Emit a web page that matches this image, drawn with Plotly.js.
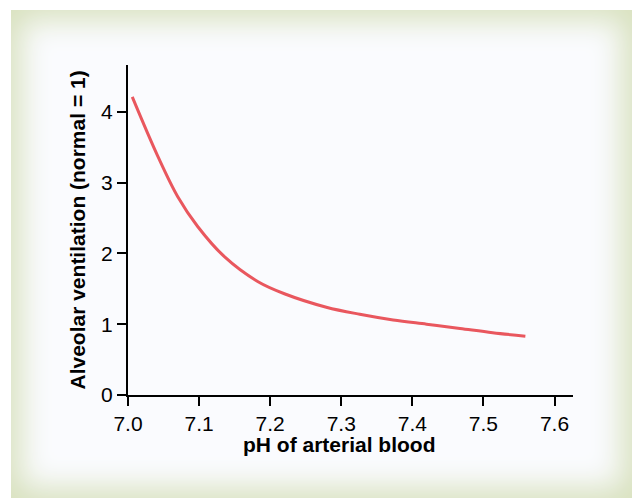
<!DOCTYPE html>
<html>
<head>
<meta charset="utf-8">
<script src="https://cdn.plot.ly/plotly-3.0.1.min.js"></script>
<style>
  html, body { margin: 0; padding: 0; background: #ffffff; width: 632px; height: 498px; overflow: hidden; }
  #frame {
    position: absolute; left: 11px; top: 10px; width: 621px; height: 488px;
    background: #fafbfe;
    box-shadow: inset 0 0 30px 10px #d8e1be;
  }
  #chart { position: absolute; left: 0; top: 0; width: 632px; height: 498px; }
</style>
</head>
<body>
<div id="frame"></div>
<div id="chart"></div>
<script>
// pH of arterial blood
const ph = [7.006, 7.042, 7.070, 7.098, 7.136, 7.183, 7.220, 7.279, 7.326, 7.373, 7.420, 7.467, 7.513, 7.559];
// Alveolar ventilation (normal = 1)
const ventilation = [4.21, 3.37, 2.80, 2.38, 1.95, 1.60, 1.43, 1.24, 1.14, 1.06, 1.00, 0.94, 0.88, 0.83];
const xTicks = [7.0, 7.1, 7.2, 7.3, 7.4, 7.5, 7.6];
const xTickLabels = ["7.0", "7.1", "7.2", "7.3", "7.4", "7.5", "7.6"];
const yTicks = [0, 1, 2, 3, 4];
const xTitle = "pH of arterial blood";
const yTitle = "Alveolar ventilation (normal = 1)";

const font = "Arial, 'Liberation Sans', sans-serif";

Plotly.newPlot("chart", [{
  x: ph, y: ventilation, type: "scatter", mode: "lines",
  line: { color: "#e9575e", width: 3, shape: "spline", smoothing: 1 },
  hoverinfo: "skip", showlegend: false
}], {
  width: 632, height: 498,
  margin: { l: 128, r: 59, t: 65, b: 103, pad: 0 },
  paper_bgcolor: "rgba(0,0,0,0)",
  plot_bgcolor: "rgba(0,0,0,0)",
  font: { family: font, size: 21, color: "#000" },
  xaxis: {
    range: [7.0, 7.626], tickvals: xTicks, ticktext: xTickLabels,
    showline: true, linecolor: "#000", linewidth: 2,
    ticks: "outside", ticklen: 9, tickwidth: 2, tickcolor: "#000",
    showgrid: false, zeroline: false, fixedrange: true,
    tickfont: { family: font, size: 21, color: "#000" }
  },
  yaxis: {
    range: [0, 4.66], tickvals: yTicks,
    showline: true, linecolor: "#000", linewidth: 2,
    ticks: "outside", ticklen: 9, tickwidth: 2, tickcolor: "#000",
    showgrid: false, zeroline: false, fixedrange: true,
    tickfont: { family: font, size: 21, color: "#000" }
  },
  annotations: [
    { text: "<b>" + xTitle + "</b>", xref: "paper", yref: "paper",
      x: 0.4764, y: -0.1490, xanchor: "center", yanchor: "middle",
      showarrow: false, font: { family: font, size: 21, color: "#000" } },
    { text: "<b>" + yTitle + "</b>", xref: "paper", yref: "paper",
      x: -0.1157, y: 0.5, xanchor: "center", yanchor: "middle", textangle: -90,
      showarrow: false, font: { family: font, size: 21, color: "#000" } }
  ]
}, { displayModeBar: false, staticPlot: true });
</script>
</body>
</html>
